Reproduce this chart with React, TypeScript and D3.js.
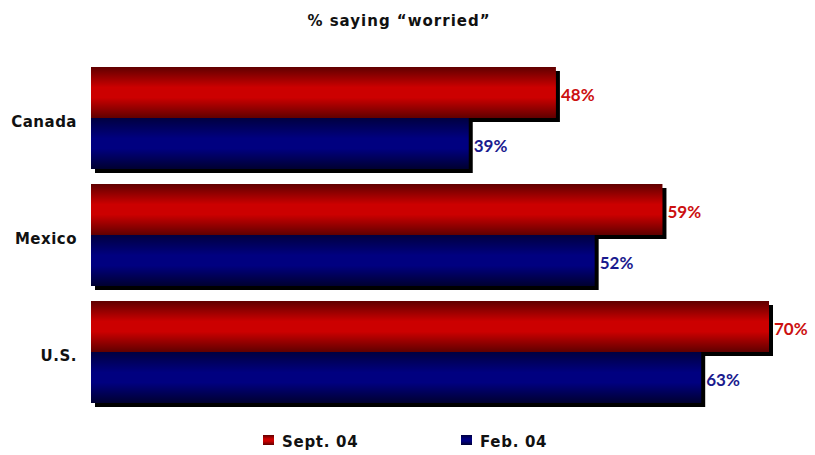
import React from "react";
import * as d3 from "d3";

const categories = ["Canada", "Mexico", "U.S."];
const seriesNames = ["Sept. 04", "Feb. 04"];
const sept04 = [48, 59, 70];
const feb04 = [39, 52, 63];
const title = "% saying \u201cworried\u201d";

const W = 815;
const H = 455;

export default function App() {
  const x = d3.scaleLinear().domain([0, 70]).range([91, 769]);
  const y = d3.scaleBand().domain(categories).range([67, 403]).paddingInner(15 / 117).paddingOuter(0);
  const yb = d3.scaleBand().domain(seriesNames).range([0, y.bandwidth()]);
  const series = [
    { name: seriesNames[0], values: sept04, grad: "gRed", label: "#cc1010" },
    { name: seriesNames[1], values: feb04, grad: "gBlue", label: "#1a1a8e" },
  ];
  const font = "'DejaVu Sans', Verdana, sans-serif";
  return (
    <svg width={W} height={H} style={{ position: "absolute", left: 0, top: 0, background: "#fff" }}>
      <defs>
        <linearGradient id="gRed" x1="0" y1="0" x2="0" y2="1">
          <stop offset="0" stopColor="#600000" />
          <stop offset="0.4" stopColor="#cc0000" />
          <stop offset="0.6" stopColor="#cc0000" />
          <stop offset="1" stopColor="#600000" />
        </linearGradient>
        <linearGradient id="gBlue" x1="0" y1="0" x2="0" y2="1">
          <stop offset="0" stopColor="#000040" />
          <stop offset="0.4" stopColor="#000080" />
          <stop offset="0.6" stopColor="#000080" />
          <stop offset="1" stopColor="#000030" />
        </linearGradient>
      </defs>
      <rect x={0} y={0} width={W} height={H} fill="#fff" />
      <text x={399} y={26} textAnchor="middle" fontFamily={font} fontWeight="bold" fontSize={15} letterSpacing={1} fill="#111">
        {title}
      </text>
      {categories.map((c, i) => (
        <g key={c}>
          <text
            x={77}
            y={(y(c) as number) + y.bandwidth() / 2 + 8.5}
            textAnchor="end"
            fontFamily={font}
            fontWeight="bold"
            fontSize={15}
            letterSpacing={0.5}
            fill="#111"
          >
            {c}
          </text>
          {series.map((s) => {
            const by = (y(c) as number) + (yb(s.name) as number);
            const bw = x(s.values[i]) - x(0);
            const bh = yb.bandwidth();
            return (
              <g key={s.name}>
                <rect x={x(0) + 4} y={by + 4} width={bw} height={bh} fill="#000" />
                <rect x={x(0)} y={by} width={bw} height={bh} fill={`url(#${s.grad})`} />
                <text
                  x={x(s.values[i]) + 5}
                  y={by + bh / 2 + 8}
                  fontFamily="Lato, sans-serif"
                  fontWeight="bold"
                  fontSize={17}
                  fill={s.label}
                >
                  {s.values[i]}%
                </text>
              </g>
            );
          })}
        </g>
      ))}
      {series.map((s, k) => {
        const lx = k === 0 ? 263 : 461;
        return (
          <g key={s.name}>
            <rect x={lx} y={435} width={11} height={10} fill={`url(#${s.grad})`} />
            <text x={lx + 19} y={447} fontFamily={font} fontWeight="bold" fontSize={15} letterSpacing={0.7} fill="#111">
              {s.name}
            </text>
          </g>
        );
      })}
    </svg>
  );
}
